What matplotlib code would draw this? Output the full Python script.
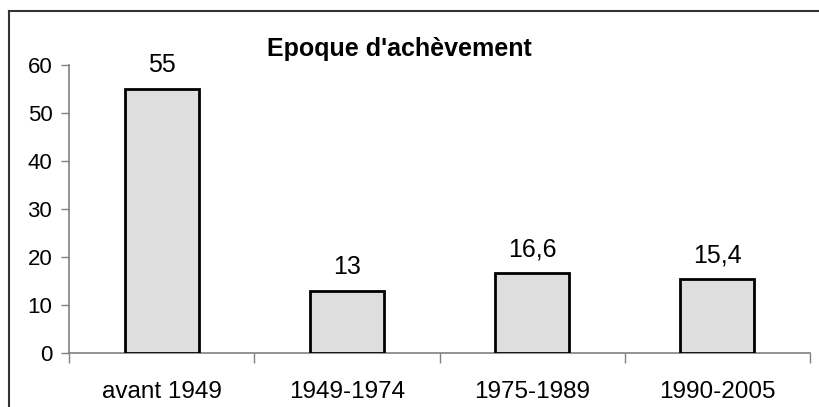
import matplotlib.pyplot as plt
from matplotlib.lines import Line2D

# Données du graphique
categories = ['avant 1949', '1949-1974', '1975-1989', '1990-2005']
valeurs = [55, 13, 16.6, 15.4]
etiquettes = ['55', '13', '16,6', '15,4']
titre = "Epoque d'achèvement"

plt.rcParams['font.family'] = ['Liberation Sans', 'DejaVu Sans']

fig = plt.figure(figsize=(8.19, 4.07), dpi=100)
ax = fig.add_axes([69/819, 54/407, 741/819, 288/407])

x = range(len(categories))
ax.bar(x, valeurs, width=0.4, color='#dedede', edgecolor='black', linewidth=2, zorder=3)

# étiquettes de valeur au-dessus des barres
for xi, v, lab in zip(x, valeurs, etiquettes):
    ax.annotate(lab, (xi, v), xytext=(0, 12), textcoords='offset points',
                ha='center', va='baseline', fontsize=18)

ax.set_xlim(-0.5, len(categories) - 0.5)
ax.set_ylim(0, 60)
ax.set_yticks(range(0, 61, 10))

# graduations de l'axe x entre les catégories
ax.set_xticks([i - 0.5 for i in range(len(categories) + 1)])
ax.set_xticklabels([])
ax.set_xticks(list(x), minor=True)
ax.set_xticklabels(categories, minor=True, fontsize=17.5)
ax.tick_params(axis='x', which='minor', length=0, pad=20)
ax.tick_params(axis='x', which='major', length=7, color='#808080', width=1)
ax.tick_params(axis='y', length=6, color='#808080', width=1, labelsize=16, pad=6)

for s in ['top', 'right']:
    ax.spines[s].set_visible(False)
for s in ['left', 'bottom']:
    ax.spines[s].set_color('#808080')
    ax.spines[s].set_linewidth(1.2)

fig.text(399/819, 1 - 56/407, titre, ha='center', va='baseline', fontsize=18, fontweight='bold')

# cadre du graphique
fig.add_artist(Line2D([8.5/819, 8.5/819], [0, 1 - 11/407], color='#333333', lw=1.5))
fig.add_artist(Line2D([8.5/819, 1], [1 - 11/407, 1 - 11/407], color='#333333', lw=1.5))

fig.savefig('out.png', dpi=100)
